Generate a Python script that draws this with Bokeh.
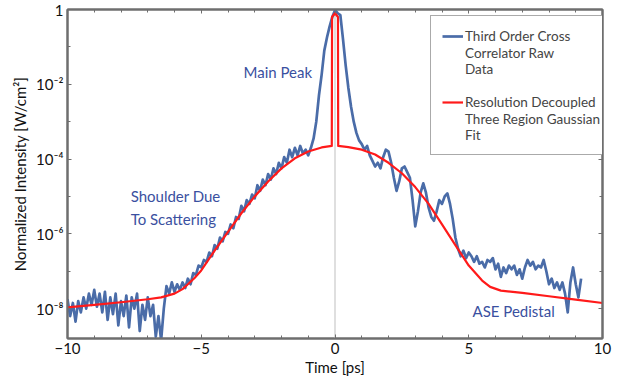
from bokeh.plotting import figure
from bokeh.models import (Range1d, FixedTicker, CustomJSTickFormatter, LinearAxis, LogAxis,
                          Span, Label, Legend, LegendItem, ColumnDataSource)
from bokeh.embed import file_html
from bokeh.resources import INLINE

FONT = "Lato"

# ---- data (log10 of normalized intensity) ----
raw_t = [-10.0, -9.9, -9.8, -9.7, -9.6, -9.5, -9.4, -9.3, -9.2, -9.1,
         -9.0, -8.9, -8.8, -8.7, -8.6, -8.5, -8.4, -8.3, -8.2, -8.1,
         -8.0, -7.9, -7.8, -7.7, -7.6, -7.5, -7.4, -7.3, -7.2, -7.1,
         -7.0, -6.9, -6.8, -6.7, -6.6, -6.5, -6.4, -6.3, -6.2, -6.1,
         -6.0, -5.9, -5.8, -5.7, -5.6, -5.5, -5.4, -5.3, -5.2, -5.1,
         -5.0, -4.9, -4.8, -4.7, -4.6, -4.5, -4.4, -4.3, -4.2, -4.1,
         -4.0, -3.9, -3.8, -3.7, -3.6, -3.5, -3.4, -3.3, -3.2, -3.1,
         -3.0, -2.9, -2.8, -2.7, -2.6, -2.5, -2.4, -2.3, -2.2, -2.1,
         -2.0, -1.9, -1.8, -1.7, -1.6, -1.5, -1.4, -1.3, -1.2, -1.1,
         -1.0, -0.9, -0.8, -0.7, -0.6, -0.5, -0.4, -0.3, -0.2, -0.1,
         0.0, 0.1, 0.2, 0.3, 0.4, 0.5, 0.6, 0.7, 0.8, 0.9,
         1.0, 1.1, 1.2, 1.3, 1.4, 1.5, 1.6, 1.7, 1.8, 1.9,
         2.0, 2.1, 2.2, 2.3, 2.4, 2.5, 2.6, 2.7, 2.8, 2.9,
         3.0, 3.1, 3.2, 3.3, 3.4, 3.5, 3.6, 3.7, 3.8, 3.9,
         4.0, 4.1, 4.2, 4.3, 4.4, 4.5, 4.6, 4.7, 4.8, 4.9,
         5.0, 5.1, 5.2, 5.3, 5.4, 5.5, 5.6, 5.7, 5.8, 5.9,
         6.0, 6.1, 6.2, 6.3, 6.4, 6.5, 6.6, 6.7, 6.8, 6.9,
         7.0, 7.1, 7.2, 7.3, 7.4, 7.5, 7.6, 7.7, 7.8, 7.9,
         8.0, 8.1, 8.2, 8.3, 8.4, 8.5, 8.6, 8.7, 8.8, 8.9,
         9.0, 9.1, 9.2]
raw_log = [-7.75, -8.2, -7.85, -8.35, -7.8, -8.1, -7.7, -8.0, -7.6, -7.9,
           -7.5, -7.95, -7.6, -8.1, -7.55, -8.3, -7.7, -8.15, -7.6, -8.45,
           -7.8, -8.2, -7.65, -8.5, -7.7, -8.0, -7.6, -8.6, -7.9, -8.3,
           -7.7, -8.2, -7.9, -8.75, -8.2, -8.85, -8.0, -7.4, -7.6, -7.3,
           -7.55, -7.35, -7.5, -7.3, -7.45, -7.2, -7.35, -7.05, -7.1, -6.85,
           -6.9, -6.7, -6.75, -6.5, -6.6, -6.3, -6.4, -6.1, -6.2, -5.95,
           -6.0, -5.75, -5.85, -5.55, -5.6, -5.25, -5.4, -5.1, -5.2, -4.95,
           -5.05, -4.7, -4.85, -4.55, -4.7, -4.4, -4.55, -4.25, -4.4, -4.1,
           -4.25, -3.95, -4.1, -3.75, -3.95, -3.7, -3.9, -3.65, -3.85, -3.75,
           -3.9, -3.7, -3.45, -3.0, -2.3, -1.75, -1.1, -0.75, -0.45, -0.2,
           -0.02, -0.1, -0.15, -0.8, -1.5, -2.1, -2.6, -3.0, -3.3, -3.5,
           -3.6, -3.75, -3.65, -3.9, -4.05, -4.2, -4.1, -4.25, -3.95, -3.75,
           -3.8, -4.1, -4.5, -4.85, -4.6, -4.25, -4.2, -4.35, -4.5, -5.1,
           -5.8, -5.4, -4.9, -4.65, -4.9, -5.3, -5.55, -5.65, -5.4, -5.1,
           -5.2, -5.0, -4.92, -5.2, -5.6, -6.1, -6.4, -6.6, -6.45, -6.65,
           -6.5, -6.6, -6.75, -6.6, -6.8, -6.75, -6.9, -6.7, -6.75, -6.65,
           -6.95, -6.8, -7.15, -6.9, -7.05, -6.85, -6.95, -6.85, -7.1, -6.95,
           -7.2, -6.9, -6.7, -6.85, -6.75, -6.95, -6.85, -6.9, -6.7, -7.0,
           -7.35, -7.2, -7.45, -7.3, -7.5, -7.3, -7.6, -8.1, -7.3, -6.9,
           -7.35, -7.7, -7.2]

fit_t = [-10.0, -9.0, -8.0, -7.0, -6.5, -6.0, -5.7, -5.5, -5.25, -5.0,
         -4.5, -4.0, -3.5, -3.0, -2.5, -2.0, -1.5, -1.0, -0.5, -0.12,
         -0.11, 0.0, 0.11, 0.12, 0.5, 1.0, 1.5, 2.0, 2.5, 3.0,
         3.5, 4.0, 4.5, 5.0, 5.5, 5.8, 6.2, 7.0, 8.0, 9.0, 10.0]
fit_log = [-7.97, -7.90, -7.83, -7.75, -7.70, -7.60, -7.48, -7.35, -7.18, -6.98,
           -6.45, -5.95, -5.45, -5.0, -4.6, -4.25, -3.98, -3.8, -3.69, -3.65,
           -0.2, -0.1, -0.2, -3.65, -3.68, -3.75, -3.88, -4.1, -4.38, -4.75,
           -5.2, -5.75, -6.3, -6.85, -7.25, -7.42, -7.52, -7.58, -7.67, -7.76, -7.85]

decades_major = [-8, -6, -4, -2, 0]
decades_minor = [-7, -5, -3, -1]
x_major = [-10, -5, 0, 5, 10]
x_minor = list(range(-10, 11))

# legend texts: first line next to the swatch, the rest below it
series_first = ["Third Order Cross", "Resolution Decoupled"]
series_rest = ["Correlator Raw\nData\n ", "Three Region Gaussian\nFit"]

notes = [("Main Peak", -3.42, -1.68),
         ("Shoulder Due\nTo Scattering", -7.64, -5.29),
         ("ASE Pedistal", 5.14, -8.07)]

# ---- figure ----
AX = "#6e6e6e"
BLUE = "#4a6ca8"
RED = "#ff1a1a"
NOTE = "#3a50a0"

p = figure(width=630, height=383, y_axis_type="log",
           x_range=Range1d(-10, 10), y_range=Range1d(10 ** -8.8, 1),
           output_backend="svg", toolbar_location=None,
           min_border_left=67, min_border_right=28, min_border_top=9, min_border_bottom=45)
p.grid.visible = False
p.outline_line_color = AX
p.outline_line_width = 2

p.add_layout(Span(location=0, dimension="height", line_color="#d4d4d4", line_width=1.5, level="underlay"))

blue_src = ColumnDataSource(dict(t=raw_t, y=[10 ** v for v in raw_log]))
red_src = ColumnDataSource(dict(t=fit_t, y=[10 ** v for v in fit_log]))
r_blue = p.line("t", "y", source=blue_src, line_color=BLUE, line_width=2.7, line_join="round")
r_red = p.line("t", "y", source=red_src, line_color=RED, line_width=2.2, line_join="round")
# empty renderer used only to carry the continuation lines of the legend labels
r_none = p.line(x=[], y=[], line_alpha=0)

ytick = FixedTicker(ticks=[10.0 ** d for d in decades_major], minor_ticks=[10.0 ** d for d in decades_minor])
xtick = FixedTicker(ticks=x_major, minor_ticks=x_minor)

yfmt = CustomJSTickFormatter(code="""
const e = Math.round(Math.log10(tick));
if (e === 0) return "1";
const sup = {"-":"\u207b","0":"\u2070","1":"\u00b9","2":"\u00b2","3":"\u00b3","4":"\u2074","5":"\u2075","6":"\u2076","7":"\u2077","8":"\u2078","9":"\u2079"};
return "10" + String(e).split("").map(c => sup[c]).join("");
""")

def style(ax, labels=True):
    ax.axis_line_color = AX
    ax.axis_line_width = 2
    ax.major_tick_in = 4
    ax.major_tick_out = 0
    ax.minor_tick_in = 3
    ax.minor_tick_out = 0
    ax.major_tick_line_color = AX
    ax.minor_tick_line_color = AX
    ax.major_label_text_font = FONT
    ax.major_label_text_color = "#111111"
    ax.axis_label_text_font = FONT
    ax.axis_label_text_font_style = "normal"
    ax.axis_label_text_color = "#111111"
    if not labels:
        ax.major_label_text_font_size = "1px"
        ax.major_label_text_color = None
        ax.major_label_standoff = 0

xa = p.xaxis[0]
xa.ticker = xtick
style(xa)
xa.major_label_text_font_size = "15px"
xa.axis_label = "Time [ps]"
xa.axis_label_text_font_size = "15px"
xa.major_label_standoff = 4
xa.axis_label_standoff = 1

ya = p.yaxis[0]
ya.ticker = ytick
ya.formatter = yfmt
style(ya)
ya.major_label_text_font_size = "15px"
ya.axis_label = "Normalized Intensity [W/cm\u00b2]"
ya.axis_label_text_font_size = "15px"
ya.major_label_standoff = 4
ya.axis_label_standoff = 4

top = LinearAxis(ticker=xtick)
style(top, labels=False)
p.add_layout(top, "above")
right = LogAxis(ticker=ytick)
style(right, labels=False)
p.add_layout(right, "right")

for txt, tx, ly in notes:
    p.add_layout(Label(x=tx, y=10 ** ly, text=txt, text_font=FONT, text_font_size="15px",
                       text_color=NOTE, text_baseline="middle", text_line_height=1.3))

legend = Legend(items=[LegendItem(label=series_first[0], renderers=[r_blue]),
                       LegendItem(label=series_rest[0], renderers=[r_none]),
                       LegendItem(label=series_first[1], renderers=[r_red]),
                       LegendItem(label=series_rest[1], renderers=[r_none])],
                location=(363, 183), margin=0, padding=11, spacing=0,
                label_text_font=FONT, label_text_font_size="13.5px", label_text_line_height=1.42,
                label_height=18, glyph_height=18,
                label_standoff=2, glyph_width=21, border_line_color="#555555", border_line_width=1.5,
                background_fill_alpha=1)
p.add_layout(legend)

open("out.html", "w").write(file_html(p, INLINE))
